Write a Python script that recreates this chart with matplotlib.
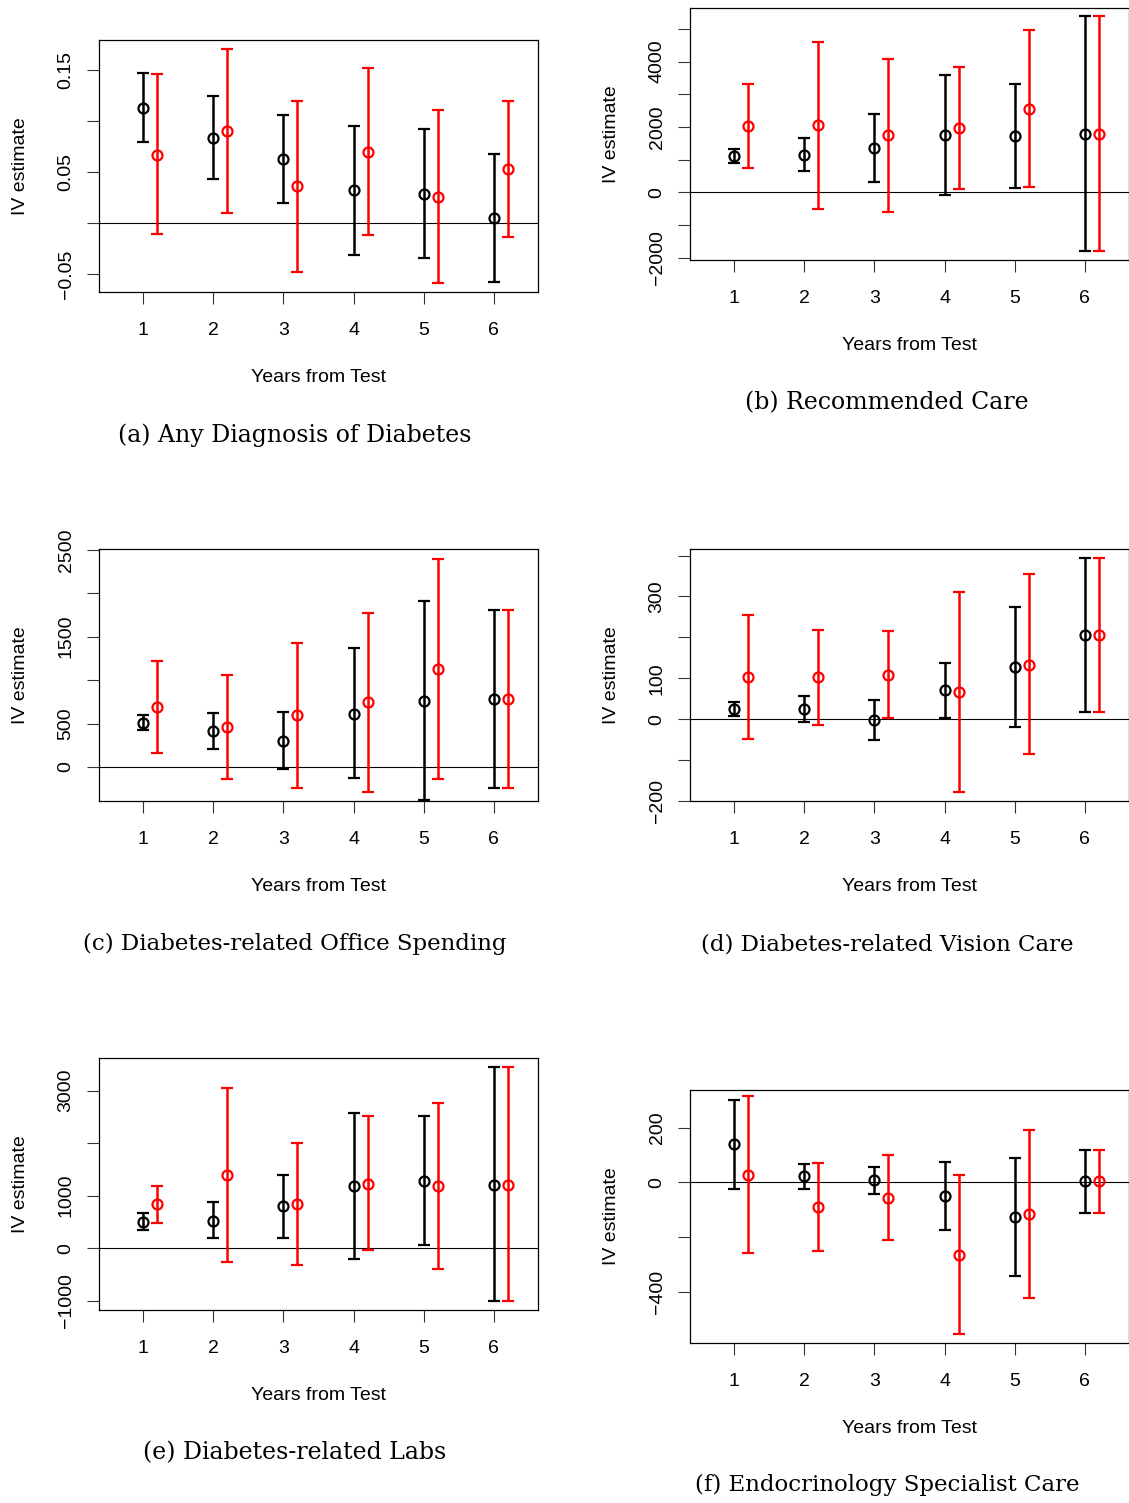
import numpy as np
import matplotlib
matplotlib.use('Agg')
import matplotlib.pyplot as plt

plt.rcParams['font.family'] = ['Liberation Sans', 'DejaVu Sans']

years = [1, 2, 3, 4, 5, 6]
xticklabels = ['1', '2', '3', '4', '5', '6']

# (a) Any Diagnosis of Diabetes
a_black_est = [0.113, 0.084, 0.063, 0.032, 0.029, 0.005]
a_black_lo = [0.080, 0.043, 0.020, -0.031, -0.034, -0.058]
a_black_hi = [0.147, 0.125, 0.106, 0.095, 0.092, 0.068]
a_red_est = [0.067, 0.090, 0.036, 0.070, 0.026, 0.053]
a_red_lo = [-0.011, 0.010, -0.048, -0.012, -0.059, -0.014]
a_red_hi = [0.146, 0.171, 0.120, 0.152, 0.111, 0.120]

# (b) Recommended Care
b_black_est = [1110, 1140, 1340, 1745, 1715, 1775]
b_black_lo = [880, 635, 305, -90, 135, -1795]
b_black_hi = [1335, 1645, 2380, 3580, 3305, 5380]
b_red_est = [2030, 2050, 1745, 1970, 2560, 1775]
b_red_lo = [755, -500, -600, 110, 165, -1795]
b_red_hi = [3315, 4610, 4090, 3825, 4980, 5380]

# (c) Diabetes-related Office Spending
c_black_est = [510, 410, 300, 615, 760, 780]
c_black_lo = [425, 210, -25, -130, -380, -240]
c_black_hi = [595, 620, 630, 1365, 1910, 1810]
c_red_est = [690, 460, 595, 745, 1130, 780]
c_red_lo = [160, -140, -240, -285, -140, -240]
c_red_hi = [1215, 1060, 1425, 1775, 2400, 1810]

# (d) Diabetes-related Vision Care
d_black_est = [26, 25, -2, 71, 128, 205]
d_black_lo = [9, -7, -52, 3, -19, 18]
d_black_hi = [43, 57, 47, 138, 275, 393]
d_red_est = [102, 102, 109, 67, 133, 205]
d_red_lo = [-49, -14, 3, -177, -86, 18]
d_red_hi = [254, 219, 216, 311, 354, 393]

# (e) Diabetes-related Labs
e_black_est = [505, 525, 795, 1175, 1285, 1210]
e_black_lo = [340, 185, 190, -215, 65, -1000]
e_black_hi = [665, 870, 1395, 2570, 2510, 3445]
e_red_est = [830, 1390, 835, 1230, 1175, 1210]
e_red_lo = [475, -260, -330, -45, -400, -1000]
e_red_hi = [1185, 3050, 2000, 2510, 2760, 3445]

# (f) Endocrinology Specialist Care
f_black_est = [139, 22, 7, -51, -126, 4]
f_black_lo = [-23, -23, -42, -175, -342, -112]
f_black_hi = [301, 67, 56, 74, 90, 118]
f_red_est = [27, -90, -57, -264, -115, 4]
f_red_lo = [-259, -250, -211, -553, -422, -112]
f_red_hi = [316, 69, 99, 25, 192, 118]

panels = [
    dict(box=(99, 40, 538, 292), ylim=(-0.0677, 0.1798),
         yticks=[-0.05, 0, 0.05, 0.10, 0.15], yticklabels=['\u22120.05', '', '0.05', '', '0.15'],
         black=(a_black_est, a_black_lo, a_black_hi), red=(a_red_est, a_red_lo, a_red_hi),
         caption='(a) Any Diagnosis of Diabetes', cap_xy=(295, 435)),
    dict(box=(690, 8, 1129, 260), ylim=(-2075, 5640),
         yticks=[-2000, -1000, 0, 1000, 2000, 3000, 4000, 5000],
         yticklabels=['\u22122000', '', '0', '', '2000', '', '4000', ''],
         black=(b_black_est, b_black_lo, b_black_hi), red=(b_red_est, b_red_lo, b_red_hi),
         caption='(b) Recommended Care', cap_xy=(887, 403)),
    dict(box=(99, 549, 538, 801), ylim=(-391, 2510),
         yticks=[0, 500, 1000, 1500, 2000, 2500], yticklabels=['0', '500', '', '1500', '', '2500'],
         black=(c_black_est, c_black_lo, c_black_hi), red=(c_red_est, c_red_lo, c_red_hi),
         caption='(c) Diabetes-related Office Spending', cap_xy=(295, 944)),
    dict(box=(690, 549, 1129, 801), ylim=(-200, 416),
         yticks=[-200, -100, 0, 100, 200, 300, 400],
         yticklabels=['\u2212200', '', '0', '100', '', '300', ''],
         black=(d_black_est, d_black_lo, d_black_hi), red=(d_red_est, d_red_lo, d_red_hi),
         caption='(d) Diabetes-related Vision Care', cap_xy=(887, 944)),
    dict(box=(99, 1058, 538, 1310), ylim=(-1180, 3621),
         yticks=[-1000, 0, 1000, 2000, 3000], yticklabels=['\u22121000', '0', '1000', '', '3000'],
         black=(e_black_est, e_black_lo, e_black_hi), red=(e_red_est, e_red_lo, e_red_hi),
         caption='(e) Diabetes-related Labs', cap_xy=(295, 1453)),
    dict(box=(690, 1090, 1129, 1343), ylim=(-587, 337),
         yticks=[-400, -200, 0, 200], yticklabels=['\u2212400', '', '0', '200'],
         black=(f_black_est, f_black_lo, f_black_hi), red=(f_red_est, f_red_lo, f_red_hi),
         caption='(f) Endocrinology Specialist Care', cap_xy=(887, 1485)),
]

W, H = 1129, 1503
fig = plt.figure(figsize=(W / 100, H / 100), dpi=100)


def draw_ci(ax, x, vals, color):
    est, lo, hi = (np.array(v, dtype=float) for v in vals)
    ax.errorbar(x, est, yerr=[est - lo, hi - est], fmt='o', color=color,
                mfc='none', mec=color, ms=7.2, mew=1.6, elinewidth=1.8,
                capsize=4.5, capthick=1.8, zorder=3)


for p in panels:
    x0, y0, x1, y1 = p['box']
    ax = fig.add_axes([x0 / W, 1 - y1 / H, (x1 - x0) / W, (y1 - y0) / H])
    ax.axhline(0, color='black', lw=0.8, zorder=1)
    xs = np.array(years, dtype=float)
    draw_ci(ax, xs, p['black'], 'black')
    draw_ci(ax, xs + 0.2, p['red'], 'red')
    ax.set_xlim(0.368, 6.632)
    ax.set_ylim(*p['ylim'])
    ax.set_xticks(years)
    ax.set_xticklabels(xticklabels, fontsize=14)
    ax.set_yticks(p['yticks'])
    ax.set_yticklabels(p['yticklabels'], fontsize=14, rotation=90, va='center')
    ax.tick_params(direction='out', length=8.5, width=0.8, color='#333333')
    ax.tick_params(axis='x', pad=13)
    ax.tick_params(axis='y', pad=9)
    for s in ax.spines.values():
        s.set_linewidth(0.9)
    ax.set_xlabel('Years from Test', fontsize=14, labelpad=22)
    ax.set_ylabel('IV estimate', fontsize=14, labelpad=21)
    cx, cy = p['cap_xy']
    fs = 16.5 if len(p['caption']) > 30 else 17
    fig.text(cx / W, 1 - cy / H, p['caption'], ha='center', va='center',
             fontsize=fs, family='DejaVu Serif')

fig.savefig('out.png', dpi=100)
